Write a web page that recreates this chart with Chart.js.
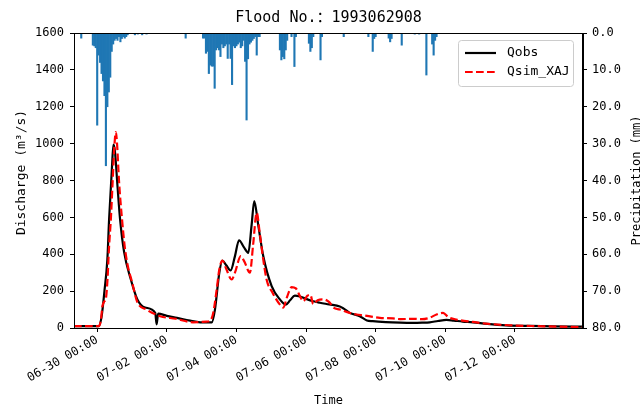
<!DOCTYPE html>
<html>
<head>
<meta charset="utf-8">
<script src="https://cdn.jsdelivr.net/npm/chart.js@4.4.1/dist/chart.umd.min.js"></script>
<style>
    html, body { margin: 0; padding: 0; background: #fff; }
    #wrap { width: 640px; height: 408px; }
</style>
</head>
<body>
<div id="wrap"><canvas id="flood" width="640" height="408"></canvas></div>
<script>
// hours since 1993-06-29 08:00
const tickHours = [16, 64, 112, 160, 208, 256, 304];
const tickLabels = ['06-30 00:00', '07-02 00:00', '07-04 00:00', '07-06 00:00', '07-08 00:00', '07-10 00:00', '07-12 00:00'];

const obsHours = [0, 10, 17, 19, 21, 23, 24.2, 26.1, 27.2, 28.2, 30, 31.8, 34.6, 39.2, 43.7, 49, 56, 57, 58, 64, 71, 80, 87, 95, 97.2, 100.2, 102.3, 105, 108, 111, 113.8, 117, 120.2, 122.5, 124.3, 127, 130.5, 136.3, 142, 146.1, 149, 152.3, 155.8, 160, 165, 169.6, 176, 183.3, 186, 190.2, 197, 202, 206, 215, 225, 233.8, 240, 245.3, 251, 256.8, 262, 268, 275, 285, 298, 315, 330, 351];
const obsQ = [10, 10, 10, 60, 200, 371, 588, 860, 995, 960, 769, 588, 410, 263, 155, 111, 82, 20, 78, 66, 55, 40, 31, 30, 100, 299, 366, 340, 312, 390, 476, 440, 408, 560, 688, 561, 390, 227, 155, 127, 150, 176, 171, 158, 145, 137, 128, 117, 105, 82, 64, 41, 37, 32, 29, 28, 29, 31, 38, 44, 40, 35, 31, 22, 14, 11, 9, 7];

const simHours = [0, 10, 17, 18.5, 19.6, 21, 22, 23.1, 24.2, 25.4, 26.5, 27.7, 28.9, 29.6, 31.1, 33, 35, 37, 40, 43.7, 50, 59.4, 70, 82, 91.5, 94, 96, 98.4, 100.2, 102.3, 105, 108.7, 111, 115, 117.5, 121.3, 123.5, 126, 128, 130, 132.8, 137, 142, 144.3, 147, 150, 153, 156, 158, 161, 163, 165, 168, 172, 176, 179, 183.3, 190, 194.8, 200, 205, 210.9, 220, 225, 233.8, 240, 245, 250, 254.5, 258, 263.7, 275, 284, 300, 320, 351];
const simQ = [10, 10, 10, 40, 118, 145, 160, 263, 444, 588, 769, 968, 1062, 1010, 790, 600, 440, 340, 250, 140, 100, 64, 50, 31, 35, 40, 82, 209, 317, 366, 320, 263, 300, 390, 360, 300, 450, 625, 520, 400, 263, 190, 127, 110, 170, 222, 215, 170, 145, 175, 180, 130, 150, 155, 140, 110, 100, 82, 73, 68, 62, 55, 52, 48, 50, 48, 55, 73, 82, 60, 46, 33, 24, 15, 10, 5];

const rainHours = [5, 13, 14, 15, 16, 17, 18, 19, 20, 21, 22, 23, 24, 25, 26, 27, 28, 29, 30, 31, 32, 33, 34, 35, 36, 37, 42, 44, 47, 50, 77, 89, 90, 91, 92, 93, 94, 95, 96, 97, 98, 99, 100, 101, 102, 103, 104, 105, 106, 107, 108, 109, 110, 111, 112, 113, 114, 115, 116, 117, 118, 119, 120, 121, 122, 123, 124, 125, 126, 127, 128, 142, 143, 144, 145, 146, 147, 150, 152, 153, 162, 163, 164, 165, 170, 171, 186, 203, 206, 207, 208, 217, 218, 219, 226, 235, 238, 243, 247, 248, 249, 250];
const rainMm = [1.4, 3.3, 3.5, 4, 25, 6, 8, 11, 13, 17, 36, 20, 16, 12, 5, 3, 2, 1.5, 2, 1, 2.4, 1.5, 1, 1.4, 1, 0.5, 0.5, 0.3, 0.5, 0.3, 1.4, 1.4, 1.4, 5.5, 5, 11, 8.7, 9, 9, 15, 4.6, 4, 4.6, 6.4, 3, 4, 3.5, 3, 6.9, 3, 6.9, 14, 3.5, 4, 3.5, 3, 2.5, 4, 3.5, 2, 7.7, 23.6, 7, 3, 2.5, 2, 1.5, 1, 6, 1, 1, 4.6, 7.3, 6.4, 7, 4.6, 2, 1, 9.1, 1, 2.8, 5, 4, 1, 7.3, 1, 1, 1, 5, 1.5, 1, 1.4, 2.4, 1.5, 3.3, 0.3, 0.3, 11.4, 3, 6, 2, 1];

const FONT = "'DejaVu Sans Mono', 'Noto Sans CJK SC', monospace";
Chart.defaults.font.family = FONT;
Chart.defaults.font.size = 12;
Chart.defaults.color = '#000';

const pairs = (xs, ys) => xs.map((x, i) => ({ x, y: ys[i] }));

// titles, frame and legend are drawn by hand so they sit where matplotlib put them
const decor = {
    id: 'decor',
    afterDraw(chart) {
        const { ctx, chartArea: a } = chart;
        ctx.save();
        ctx.strokeStyle = '#000';
        ctx.lineWidth = 1;
        ctx.strokeRect(a.left + 0.5, a.top + 0.5, a.right - a.left - 1, a.bottom - a.top);

        ctx.fillStyle = '#000';
        ctx.textAlign = 'center';
        ctx.textBaseline = 'middle';
        ctx.font = `15px ${FONT}`;
        ctx.fillText('Flood No.：1993062908', (a.left + a.right) / 2, 18);

        ctx.font = `12px ${FONT}`;
        ctx.fillText('Time', (a.left + a.right) / 2, 401);

        ctx.save();
        ctx.translate(637, (a.top + a.bottom) / 2);
        ctx.rotate(-Math.PI / 2);
        ctx.fillText('Precipitation (mm)', 0, 0);
        ctx.restore();

        ctx.save();
        ctx.font = `13px ${FONT}`;
        ctx.translate(22, (a.top + a.bottom) / 2 - 8);
        ctx.rotate(-Math.PI / 2);
        ctx.fillText('Discharge (m³/s)', 0, 0);
        ctx.restore();

        // legend
        const lx = 458.5, ly = 40.5, lw = 115, lh = 46;
        ctx.beginPath();
        ctx.roundRect(lx, ly, lw, lh, 3);
        ctx.fillStyle = 'rgba(255,255,255,0.8)';
        ctx.fill();
        ctx.strokeStyle = '#cccccc';
        ctx.stroke();

        ctx.lineWidth = 2.2;
        ctx.strokeStyle = '#000';
        ctx.beginPath();
        ctx.moveTo(465, 53); ctx.lineTo(496, 53);
        ctx.stroke();
        ctx.strokeStyle = '#ff0000';
        ctx.setLineDash([7.7, 3.3]);
        ctx.beginPath();
        ctx.moveTo(465, 72); ctx.lineTo(496, 72);
        ctx.stroke();
        ctx.setLineDash([]);

        ctx.fillStyle = '#000';
        ctx.textAlign = 'left';
        ctx.font = `13px ${FONT}`;
        ctx.fillText('Qobs', 507, 53);
        ctx.fillText('Qsim_XAJ', 507, 72);
        ctx.restore();
    }
};

new Chart(document.getElementById('flood'), {
    type: 'bar',
    data: {
        datasets: [
            {
                type: 'line',
                label: 'Qsim_XAJ',
                data: pairs(simHours, simQ),
                yAxisID: 'y',
                borderColor: '#ff0000',
                borderWidth: 2.2,
                borderDash: [7.7, 3.3],
                pointRadius: 0,
                cubicInterpolationMode: 'monotone',
                order: 0
            },
            {
                type: 'line',
                label: 'Qobs',
                data: pairs(obsHours, obsQ),
                yAxisID: 'y',
                borderColor: '#000000',
                borderWidth: 2.2,
                pointRadius: 0,
                cubicInterpolationMode: 'monotone',
                order: 1
            },
            {
                type: 'bar',
                label: 'P',
                data: pairs(rainHours, rainMm),
                yAxisID: 'yP',
                backgroundColor: '#1f77b4',
                barPercentage: 1,
                categoryPercentage: 1,
                order: 2
            }
        ]
    },
    options: {
        responsive: false,
        animation: false,
        devicePixelRatio: 1,
        layout: { padding: { top: 33, left: 0, right: 0, bottom: 0 } },
        plugins: { legend: { display: false }, tooltip: { enabled: false } },
        scales: {
            x: {
                type: 'linear',
                offset: false,
                min: 0,
                max: 351,
                afterBuildTicks: (scale) => { scale.ticks = tickHours.map((v) => ({ value: v })); },
                afterFit: (scale) => { scale.height = 80; },
                ticks: {
                    autoSkip: false,
                    maxRotation: 30,
                    minRotation: 30,
                    padding: 1,
                    callback: (v) => tickLabels[tickHours.indexOf(v)] ?? ''
                },
                grid: { offset: false, drawOnChartArea: false, tickLength: 4, color: '#000' },
                border: { color: '#000' }
            },
            y: {
                position: 'left',
                min: 0,
                max: 1600,
                afterFit: (scale) => { scale.width = 74; },
                ticks: { stepSize: 200, padding: 6, callback: (v) => String(v) },
                grid: { drawOnChartArea: false, tickLength: 4, color: '#000' },
                border: { color: '#000' }
            },
            yP: {
                position: 'right',
                min: 0,
                max: 80,
                reverse: true,
                afterFit: (scale) => { scale.width = 57; },
                ticks: { stepSize: 10, padding: 5, callback: (v) => v.toFixed(1) },
                grid: { drawOnChartArea: false, tickLength: 4, color: '#000' },
                border: { color: '#000' }
            }
        }
    },
    plugins: [decor]
});
</script>
</body>
</html>
